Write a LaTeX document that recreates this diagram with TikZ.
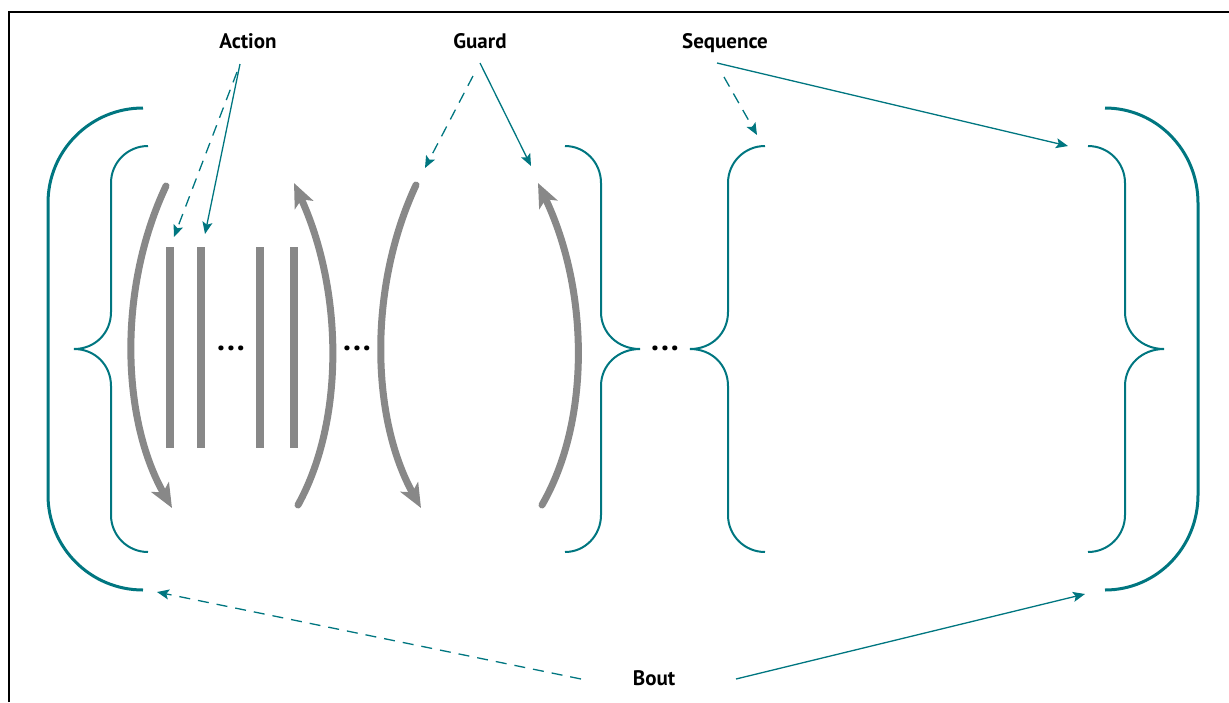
\documentclass[tikz,border=0pt]{standalone}
\usepackage{fontspec}
\setmainfont{PT Sans}
\usetikzlibrary{arrows.meta}
\definecolor{tealc}{RGB}{0,118,128}
\definecolor{grayc}{RGB}{136,136,136}
\tikzset{
  bracepath/.style={draw=tealc, line width=2pt},
  outerpath/.style={draw=tealc, line width=3pt},
  grayarc/.style={draw=grayc, line width=7pt, line cap=round},
  graytip/.style={-{Stealth[length=24pt,width=20pt,inset=6pt]}},
  barline/.style={draw=grayc, line width=8pt},
  ptr/.style={draw=tealc, line width=1.3pt, -{Stealth[length=12pt,width=10pt,inset=2.5pt]}},
  dptr/.style={ptr, dash pattern=on 11pt off 8pt},
  lbl/.style={font=\bfseries\fontsize{21}{25}\selectfont, inner sep=0pt, anchor=base},
  dots/.style={font=\bfseries\fontsize{32}{36}\selectfont, inner sep=0pt},
}
\begin{document}
\begin{tikzpicture}[x=1pt,y=-1pt]
\useasboundingbox (0,0) rectangle (1229,702);
% frame
\draw[line width=1.5pt] (9,702) -- (9,12) -- (1229,12);

% outer parentheses
\draw[outerpath] (143,108) .. controls (90.5,108) and (48,150.5) .. (48,203) -- (48,495)
   .. controls (48,547.5) and (90.5,590) .. (143,590);
\draw[outerpath] (1105,108) .. controls (1156.5,108) and (1198,150.5) .. (1198,203) -- (1198,495)
   .. controls (1198,547.5) and (1156.5,590) .. (1105,590);

% inner braces
\draw[bracepath] (148,146) .. controls (127.5,146) and (111,162.5) .. (111,183) -- (111,312)
   .. controls (111,333) and (95,349) .. (74,349)
   .. controls (95,349) and (111,365) .. (111,386) -- (111,515)
   .. controls (111,535.5) and (127.5,552) .. (148,552);
\draw[bracepath] (565,146) .. controls (585,146) and (601,162.5) .. (601,183) -- (601,312)
   .. controls (601,333) and (618,349) .. (640,349)
   .. controls (618,349) and (601,365) .. (601,386) -- (601,515)
   .. controls (601,535.5) and (585,552) .. (565,552);
\draw[bracepath] (765,146) .. controls (744.5,146) and (728,162.5) .. (728,183) -- (728,312)
   .. controls (728,333) and (712,349) .. (690,349)
   .. controls (712,349) and (728,365) .. (728,386) -- (728,515)
   .. controls (728,535.5) and (744.5,552) .. (765,552);
\draw[bracepath] (1088,146) .. controls (1108.5,146) and (1125,162.5) .. (1125,183) -- (1125,312)
   .. controls (1125,333) and (1142,349) .. (1164,349)
   .. controls (1142,349) and (1125,365) .. (1125,386) -- (1125,515)
   .. controls (1125,535.5) and (1108.5,552) .. (1088,552);

% gray arcs
\draw[grayarc, graytip] (166,186) .. controls (117,290) and (122,420) .. (172,508);
\draw[grayarc, graytip] (298,505) .. controls (345,420) and (343,290) .. (294,183);
\draw[grayarc, graytip] (416,185) .. controls (367,290) and (372,420) .. (421,508);
\draw[grayarc, graytip] (542,505) .. controls (591,420) and (589,290) .. (538,183);

% bars
\foreach \bx in {170,201,260,294} \draw[barline] (\bx,247) -- (\bx,448);

% dots
\node[dots] (d1) at (231,348) {.\kern2pt.\kern2pt.};
\node[dots] (d2) at (357,348) {.\kern2pt.\kern2pt.};
\node[dots] (d3) at (665,348) {.\kern2pt.\kern2pt.};

% labels
\node[lbl] (action) at (248,48) {Action};
\node[lbl] (guard) at (480,48) {Guard};
\node[lbl] (sequence) at (725,48) {Sequence};
\node[lbl] (bout) at (654,685) {Bout};

% pointer coordinates
\coordinate (aS) at (240,64);
\coordinate (aD) at (237,72);
\coordinate (aSe) at (205,234);
\coordinate (aDe) at (174,237);
\coordinate (gS) at (480,63);
\coordinate (gD) at (473,76);
\coordinate (gSe) at (531,166);
\coordinate (gDe) at (425,168);
\coordinate (sS) at (717,63);
\coordinate (sD) at (724,77);
\coordinate (sSe) at (1068,146);
\coordinate (sDe) at (757,135);
\coordinate (bS) at (736,679);
\coordinate (bD) at (581,679);
\coordinate (bSe) at (1085,594);
\coordinate (bDe) at (157,592);

\draw[ptr] (aS) -- (aSe);
\draw[dptr] (aD) -- (aDe);
\draw[ptr] (gS) -- (gSe);
\draw[dptr] (gD) -- (gDe);
\draw[ptr] (sS) -- (sSe);
\draw[dptr] (sD) -- (sDe);
\draw[ptr] (bS) -- (bSe);
\draw[dptr] (bD) -- (bDe);
\end{tikzpicture}
\end{document}
